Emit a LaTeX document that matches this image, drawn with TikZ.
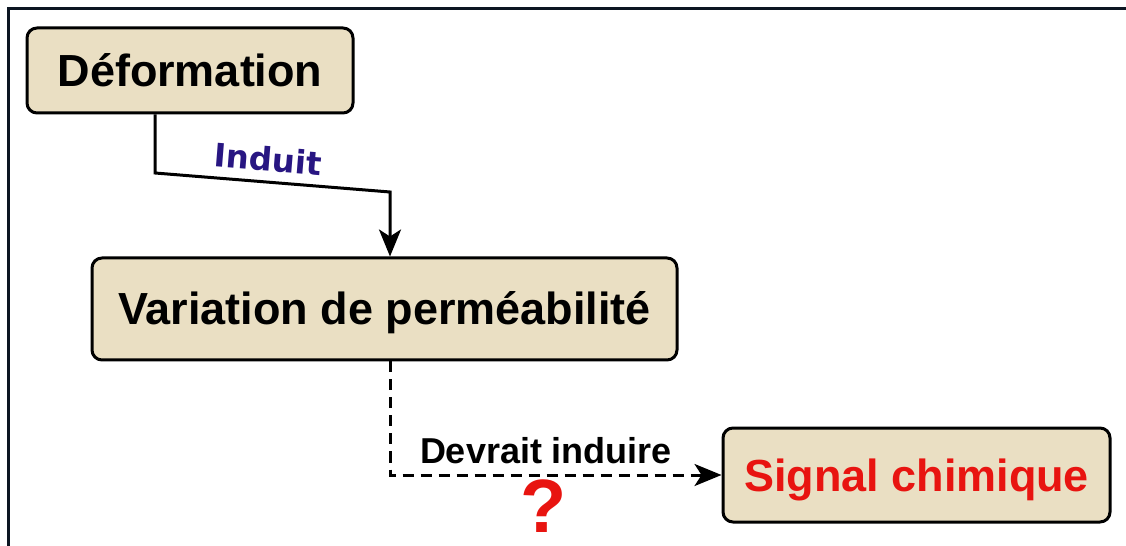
\documentclass[tikz,border=0pt]{standalone}
\usepackage{fontspec}
\setmainfont{Liberation Sans}
\newfontfamily\dejavu{DejaVu Sans}
\usepackage{xcolor}
\usetikzlibrary{arrows.meta}
\definecolor{boxfill}{RGB}{234,223,195}
\definecolor{framecol}{RGB}{12,22,34}
\definecolor{indigo}{RGB}{40,22,130}
\definecolor{sigred}{RGB}{232,20,16}

\begin{document}
\begin{tikzpicture}[x=0.1mm,y=-0.1mm,
  box/.style={draw=black,line width=0.3mm,fill=boxfill,rounded corners=1mm,inner sep=0pt,
    text height=3.2mm,text depth=0mm,font=\fontsize{12.8}{15}\selectfont\bfseries},
  conn/.style={line width=0.3mm,-{Stealth[length=2.7mm,width=2.2mm,inset=0.7mm]}}]
\useasboundingbox (0,0) rectangle (1126,546);
\draw[framecol,line width=0.3mm] (8,546) -- (8,9) -- (1130,9);
\node[box,minimum width=32.6mm,minimum height=8.5mm] (deform) at (190,70.5) {Déformation};
\node[box,minimum width=58.5mm,minimum height=10.2mm] (perm) at (384.5,309) {Variation de perméabilité};
\node[box,minimum width=38.7mm,minimum height=9.4mm,text=sigred] (signal) at (916.5,475) {Signal chimique};
\coordinate (kinka) at (155,173);
\coordinate (kinkb) at (390,192);
\coordinate (kinkc) at (390,475);
\draw[conn] (deform.south -| kinka) -- (kinka) -- (kinkb) -- (perm.north -| kinkb);
\node[rotate=-4.6,text=indigo,font=\dejavu\fontsize{9.2}{11}\selectfont\bfseries] (induit) at (268,159) {Induit};
\draw[conn,dash pattern=on 1.1mm off 0.7mm] (perm.south -| kinkc) -- (kinkc) -- (signal.west);
\node[font=\fontsize{10.24}{12}\selectfont\bfseries] (devrait) at (546,451) {Devrait induire};
\node[inner sep=0pt,text=sigred,font=\fontsize{21.5}{24}\selectfont\bfseries] (quest) at (544,506) {?};
\end{tikzpicture}
\end{document}
